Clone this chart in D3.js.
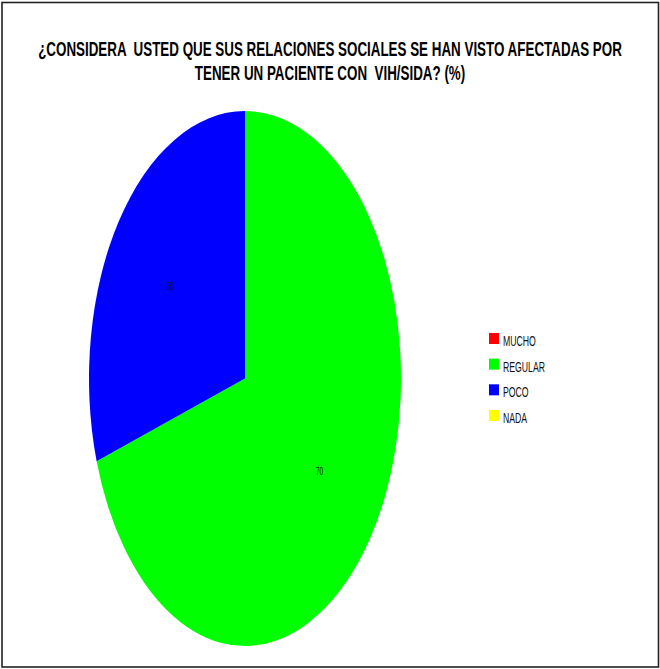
<!DOCTYPE html>
<html>
<head>
<meta charset="utf-8">
<script src="https://cdn.jsdelivr.net/npm/d3@7"></script>
<style>
  html, body { margin: 0; padding: 0; background: #fff; }
  svg { display: block; }
  text { white-space: pre; }
</style>
</head>
<body>
<script>
const categories = ["MUCHO", "REGULAR", "POCO", "NADA"];
const values = [0, 70, 30, 0];
const colors = ["#FF0000", "#00FF00", "#0000FF", "#FFFF00"];
const titleLines = [
  "¿CONSIDERA  USTED QUE SUS RELACIONES SOCIALES SE HAN VISTO AFECTADAS POR",
  "TENER UN PACIENTE CON  VIH/SIDA? (%)"
];

const W = 660, H = 669;
const font = "'Liberation Sans Narrow', 'Arial Narrow', 'Liberation Sans', Arial, sans-serif";

const svg = d3.select("body").append("svg")
  .attr("width", W).attr("height", H);

svg.append("rect").attr("width", W).attr("height", H).attr("fill", "#fff");

// frame
svg.append("rect")
  .attr("x", 2).attr("y", 2.5).attr("width", 656.5).attr("height", 664.5)
  .attr("fill", "none").attr("stroke", "#222").attr("stroke-width", 1.6);

// title
const titleG = svg.append("g");
const titleBaselines = [56, 80];
let sx = 1;
titleLines.forEach((t, i) => {
  const g = titleG.append("g").attr("transform", `translate(330,${titleBaselines[i]})`);
  const txt = g.append("text")
    .attr("text-anchor", "middle")
    .attr("font-family", font)
    .attr("font-weight", "bold")
    .attr("font-size", 19.5)
    .attr("fill", "#000")
    .text(t);
  if (i === 0) sx = 584 / txt.node().getComputedTextLength();
});
titleG.selectAll("text").attr("transform", `scale(${sx},1)`);

// pie
const cx = 245, cy = 378.5, rx = 156, ry = 267.5;
const pie = d3.pie().sort(null).value(d => d)(values);
const arc = d3.arc().innerRadius(0).outerRadius(ry);
const pieG = svg.append("g")
  .attr("transform", `translate(${cx},${cy}) scale(${rx / ry},1)`);
pieG.selectAll("path")
  .data(pie.filter(d => d.value > 0))
  .join("path")
  .attr("d", arc)
  .attr("fill", d => colors[d.index]);

const labelArc = d3.arc().innerRadius(ry * 0.59).outerRadius(ry * 0.59);
svg.append("g").selectAll("text")
  .data(pie.filter(d => d.value > 0))
  .join("text")
  .attr("transform", d => {
    const [px, py] = labelArc.centroid(d);
    return `translate(${cx + px * rx / ry},${cy + py + 4}) scale(0.8,1.35)`;
  })
  .attr("text-anchor", "middle")
  .attr("font-family", font)
  .attr("font-size", 8)
  .attr("fill", "#111")
  .text(d => d.value);

// legend
const legY = d3.scaleLinear().domain([0, 3]).range([333, 410]);
const leg = svg.append("g");
const legTexts = [];
categories.forEach((c, i) => {
  leg.append("rect")
    .attr("x", 489).attr("y", legY(i))
    .attr("width", 10).attr("height", 11)
    .attr("fill", colors[i]);
  legTexts.push(leg.append("text")
    .attr("font-family", font)
    .attr("font-size", 10.6)
    .attr("fill", "#111")
    .text(c));
});
const regW = legTexts[1].node().getComputedTextLength();
const lsx = 42 / regW;
legTexts.forEach((t, i) => {
  t.attr("transform", `translate(503,${legY(i) + 13}) scale(${lsx},1.3)`);
});
</script>
</body>
</html>
